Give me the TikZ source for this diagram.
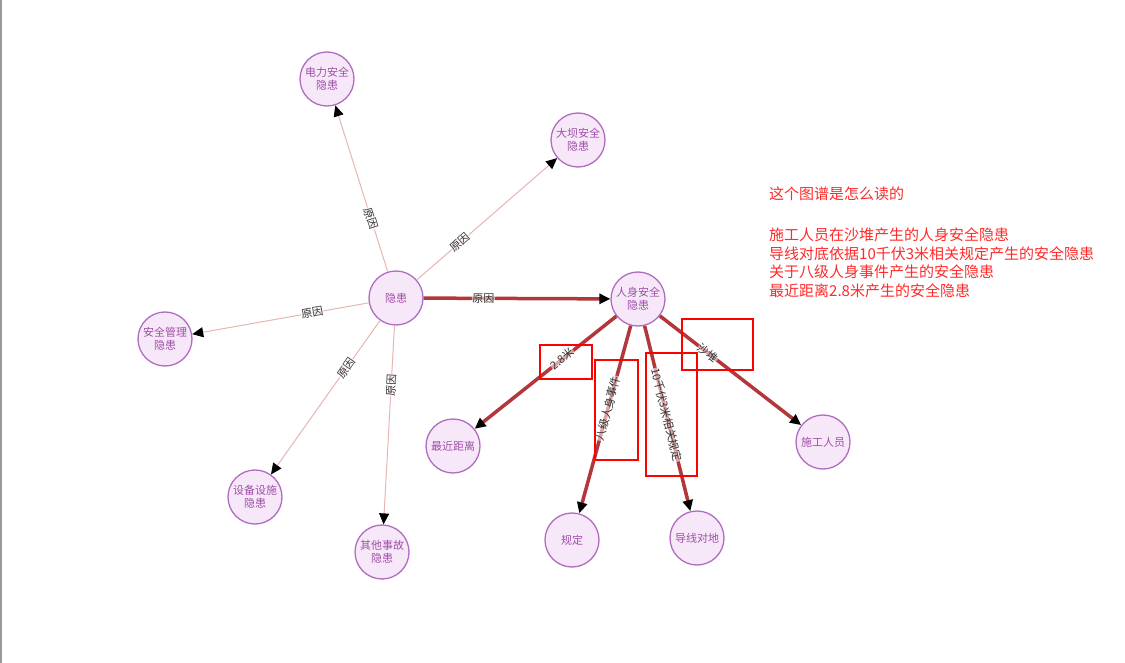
\documentclass[tikz,border=0pt]{standalone}
\usepackage{fontspec}
\setmainfont{Noto Sans CJK SC}
\usetikzlibrary{arrows.meta}

\definecolor{nodefill}{HTML}{F6E8F8}
\definecolor{nodeline}{HTML}{B06CC0}
\definecolor{nodetext}{HTML}{A04FA8}
\definecolor{thinedge}{HTML}{E8B6B2}
\definecolor{thickedge}{HTML}{B3363A}
\definecolor{labeltext}{HTML}{333333}
\definecolor{notered}{HTML}{FF2A2A}
\definecolor{frameline}{HTML}{999999}

\tikzset{
  ent/.style={circle, draw=nodeline, fill=nodefill, line width=1.3pt,
    minimum size=54pt, inner sep=0pt, text=nodetext, align=center,
    font=\fontsize{11}{12.5}\selectfont},
  headed/.style={-{Triangle[length=11pt,width=10pt,color=black]}},
  causeedge/.style={headed, draw=thinedge, line width=1pt},
  strongedge/.style={headed, draw=thickedge, line width=3.5pt},
  elabel/.style={sloped, font=\fontsize{11}{12}\selectfont, text=labeltext,
    fill=white, fill opacity=0.55, text opacity=1, inner sep=0.6pt},
  hibox/.style={draw=red, line width=1.8pt},
  notetext/.style={anchor=north west, align=left, text=notered,
    font=\fontsize{15}{18.7}\selectfont, inner sep=0pt},
}

\begin{document}
\begin{tikzpicture}[x=1pt, y=-1pt]
  \useasboundingbox (0,0) rectangle (1125,663);
  \fill[white] (0,0) rectangle (1125,663);
  \draw[frameline, line width=1.5pt] (0.75,0) -- (0.75,663);

  % entities
  \node[ent] (hz)  at (396,298) {隐患};
  \node[ent] (rs)  at (638,299) {人身安全\\隐患};
  \node[ent] (dl)  at (327,79)  {电力安全\\隐患};
  \node[ent] (db)  at (578,140) {大坝安全\\隐患};
  \node[ent] (gl)  at (165,339) {安全管理\\隐患};
  \node[ent] (sb)  at (255,497) {设备设施\\隐患};
  \node[ent] (qt)  at (382,552) {其他事故\\隐患};
  \node[ent] (zj)  at (453,446) {最近距离};
  \node[ent] (gd)  at (572,540) {规定};
  \node[ent] (dx)  at (697,538) {导线对地};
  \node[ent] (sg)  at (823,442) {施工人员};

  % causes of the hazard
  \draw[causeedge] (hz) -- node[elabel, pos=0.32] {原因} (dl);
  \draw[causeedge] (hz) -- node[elabel, pos=0.31] {原因} (db);
  \draw[causeedge] (hz) -- node[elabel, pos=0.32] {原因} (gl);
  \draw[causeedge] (hz) -- node[elabel, pos=0.31] {原因} (sb);
  \draw[causeedge] (hz) -- node[elabel, pos=0.30] {原因} (qt);
  \draw[strongedge] (hz) -- node[elabel, pos=0.32] {原因} (rs);

  % personal safety hazard relations
  \draw[strongedge] (rs) -- node[elabel, pos=0.38] {2.8米} (zj);
  \draw[strongedge] (rs) -- node[elabel, pos=0.44] {八级人身事件} (gd);
  \draw[strongedge] (rs) -- node[elabel, pos=0.48] {10千伏3米相关规定} (dx);
  \draw[strongedge] (rs) -- node[elabel, pos=0.34] {沙堆} (sg);

  % highlight boxes around the relation labels
  \draw[hibox] (540,345) rectangle (592,379);
  \draw[hibox] (595,360) rectangle (638,460);
  \draw[hibox] (646,353) rectangle (697,476);
  \draw[hibox] (682,319) rectangle (753,370);

  % reading notes
  \node[notetext] (notes) at (769,187) {这个图谱是怎么读的\\[22pt]
    施工人员在沙堆产生的人身安全隐患\\
    导线对底依据10千伏3米相关规定产生的安全隐患\\
    关于八级人身事件产生的安全隐患\\
    最近距离2.8米产生的安全隐患};
\end{tikzpicture}
\end{document}
